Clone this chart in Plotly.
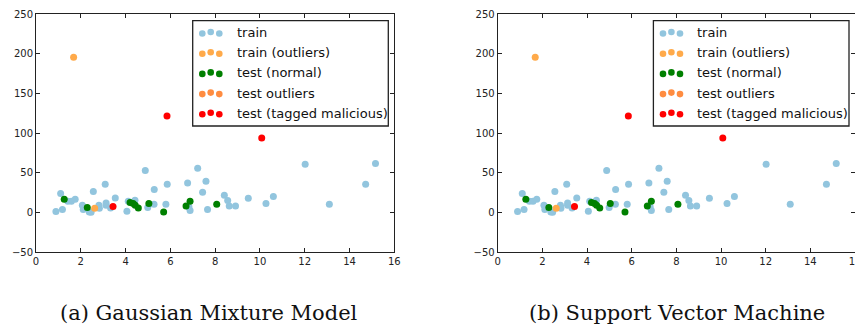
import plotly.graph_objects as go

# ---------------- data ----------------
train_x = [0.89, 1.10, 1.18, 1.42, 1.58, 1.75, 2.07, 2.11, 2.38, 2.46, 2.56, 2.81, 2.83,
           3.09, 3.13, 3.13, 3.33, 3.54, 4.06, 4.12, 4.42, 4.88, 4.99, 5.27, 5.28, 5.80,
           5.86, 6.77, 6.83, 6.88, 7.22, 7.44, 7.59, 7.66, 8.41, 8.56, 8.63, 8.91, 9.48,
           10.27, 10.60, 12.02, 13.10, 14.72, 15.16]
train_y = [1.3, 24.0, 3.8, 14.2, 14.2, 16.7, 9.2, 3.8, 0.8, 0.4, 26.6, 9.2, 5.4,
           35.6, 12.1, 9.2, 5.8, 18.4, 1.7, 14.2, 15.5, 52.9, 6.3, 10.5, 29.0, 10.5,
           35.7, 37.3, 7.0, 2.5, 55.8, 25.6, 39.4, 3.8, 21.8, 15.1, 8.4, 8.4, 18.0,
           11.3, 20.1, 60.8, 10.5, 35.7, 61.7]

train_out_x = [1.68, 2.62]
train_out_y = [195.5, 5.3]

test_norm_x = [1.26, 2.29, 4.20, 4.34, 4.43, 4.57, 5.04, 5.70, 6.70, 6.88, 8.07]
test_norm_y = [16.8, 6.3, 12.6, 11.3, 9.3, 5.9, 11.3, 0.8, 8.3, 14.2, 10.5]

test_out_x = []
test_out_y = []

mal_x = [3.44, 5.85, 10.08]
mal_y = [7.6, 121.7, 93.9]

series_names = ["train", "train (outliers)", "test (normal)", "test outliers",
                "test (tagged malicious)"]
series_colors = ["#92c5de", "#ffaa4a", "#008000", "#ff8c40", "#ff0000"]
series_data = [(train_x, train_y), (train_out_x, train_out_y), (test_norm_x, test_norm_y),
               (test_out_x, test_out_y), (mal_x, mal_y)]

x_ticks = [0, 2, 4, 6, 8, 10, 12, 14, 16]
y_ticks = [-50, 0, 50, 100, 150, 200, 250]
captions = ["(a) Gaussian Mixture Model", "(b) Support Vector Machine"]

# ---------------- layout geometry (window pixels) ----------------
WIN_W, WIN_H = 863, 326
OFF = 8                      # default page margin around the plot div
W, H = WIN_W - OFF, WIN_H - OFF
panels = [(36.0, 394.3), (497.7, 855.0)]   # axes left/right pixel edges
ax_top, ax_bot = 14.0, 252.3
caption_cx = [209, 677]
caption_cy = 313


def px(x):
    return (x - OFF) / W


def py(y):
    return 1 - (y - OFF) / H


fig = go.Figure()
shapes = []
annotations = []

for i, (l, r) in enumerate(panels):
    sfx = "" if i == 0 else str(i + 1)
    for name, color, (xs, ys) in zip(series_names, series_colors, series_data):
        fig.add_trace(go.Scatter(
            x=xs, y=ys, mode="markers", name=name, showlegend=False,
            marker=dict(color=color, size=7, line=dict(width=0)),
            xaxis="x" + sfx, yaxis="y" + sfx))
    axis_common = dict(showgrid=False, zeroline=False, showline=True, linecolor="#222",
                       linewidth=1, mirror="allticks", ticks="inside", ticklen=4,
                       tickwidth=1, tickcolor="#222", automargin=False,
                       tickfont=dict(family="DejaVu Sans", size=10, color="#222"))
    fig.update_layout(**{
        "xaxis" + sfx: dict(domain=[px(l), px(r)], range=[0, 16], tickvals=x_ticks,
                            anchor="y" + sfx, **axis_common),
        "yaxis" + sfx: dict(domain=[py(ax_bot), py(ax_top)], range=[-50, 250],
                            tickvals=y_ticks, anchor="x" + sfx, **axis_common),
    })

    # legend box
    bl, br = r - 201.6, r - 6.0
    shapes.append(dict(type="rect", xref="paper", yref="paper",
                       x0=px(bl), x1=px(br), y0=py(126.0), y1=py(20.7),
                       line=dict(color="#222", width=1.3), fillcolor="white", layer="above"))
    for k, (name, color) in enumerate(zip(series_names, series_colors)):
        cy = 32.5 + k * 20.2
        for j, (dx, dy) in enumerate([(9.6, 1.0), (18.0, -0.5), (26.6, 1.0)]):
            cx = bl + dx
            shapes.append(dict(type="circle", xref="paper", yref="paper",
                               xsizemode="pixel", ysizemode="pixel",
                               xanchor=px(cx), yanchor=py(cy + dy),
                               x0=-3.3, x1=3.3, y0=-3.3, y1=3.3,
                               fillcolor=color, line=dict(width=0), layer="above"))
        annotations.append(dict(text=name, xref="paper", yref="paper",
                                x=px(bl + 42), y=py(cy), xanchor="left", yanchor="middle",
                                showarrow=False,
                                font=dict(family="DejaVu Sans", size=13, color="#111")))
    annotations.append(dict(text=captions[i], xref="paper", yref="paper",
                            x=px(caption_cx[i]), y=py(caption_cy), xanchor="center",
                            yanchor="middle", showarrow=False,
                            font=dict(family="DejaVu Serif", size=21, color="#111")))

fig.update_layout(width=W, height=H, margin=dict(l=0, r=0, t=0, b=0),
                  paper_bgcolor="white", plot_bgcolor="white",
                  shapes=shapes, annotations=annotations, showlegend=False)

fig.write_html("out.html")
